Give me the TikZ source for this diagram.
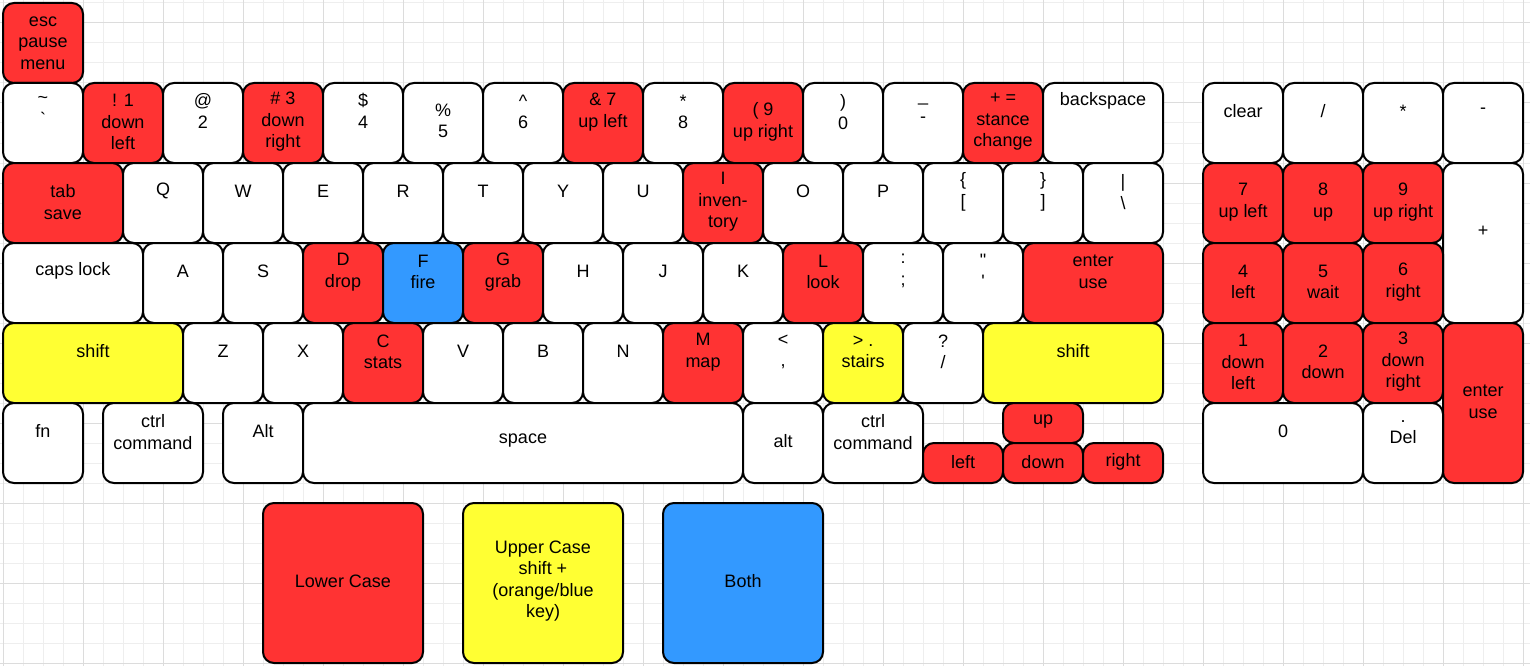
\documentclass[tikz,border=0pt]{standalone}
\usepackage{fontspec}
\newfontfamily\kf{Liberation Sans}
\definecolor{kred}{HTML}{FF3333}
\definecolor{kyel}{HTML}{FFFF33}
\definecolor{kblu}{HTML}{3399FF}
\definecolor{gridminor}{HTML}{EEEEEE}
\definecolor{gridmajor}{HTML}{DCDCDC}
\newcommand\kk[8]{%
  \node[keybox, fill=#6, minimum width={#4pt-#2pt}, minimum height={#5pt-#3pt}] (#1) at ({(#2+#4)/2},{(#3+#5)/2}) {};
  \node[keytext] (#1t) at ({(#2+#4)/2},#7) {#8};}
\begin{document}
\begin{tikzpicture}[x=1pt,y=-1pt,
  keybox/.style={draw=black, line width=2pt, rounded corners=11pt, inner sep=0pt, outer sep=0pt},
  keytext/.style={font=\kf\fontsize{18}{21.5}\selectfont, align=center, inner sep=0pt, text=black, yshift=-1pt}]
\useasboundingbox (0,0) rectangle (1530,666);
\fill[white] (0,0) rectangle (1530,666);
\foreach \i in {0,...,76} {\draw[gridminor, line width=1pt] ({3+20*\i},0) -- ({3+20*\i},666);}
\foreach \i in {0,...,33} {\draw[gridminor, line width=1pt] (0,{3+20*\i}) -- (1530,{3+20*\i});}
\foreach \i in {0,...,19} {\draw[gridmajor, line width=1pt] ({3+80*\i},0) -- ({3+80*\i},666);}
\foreach \i in {0,...,8} {\draw[gridmajor, line width=1pt] (0,{23+80*\i}) -- (1530,{23+80*\i});}
% esc
\kk{esc}{3}{3}{83}{83}{kred}{42}{esc\\pause\\menu}
% row 1
\kk{tilde}{3}{83}{83}{163}{white}{110}{\textasciitilde\\`}
\kk{one}{83}{83}{163}{163}{kred}{121}{! 1\\down\\left}
\kk{two}{163}{83}{243}{163}{white}{110}{@\\2}
\kk{three}{243}{83}{323}{163}{kred}{121}{\# 3\\down\\right}
\kk{four}{323}{83}{403}{163}{white}{110}{\$\\4}
\kk{five}{403}{83}{483}{163}{white}{120}{\%\\5}
\kk{six}{483}{83}{563}{163}{white}{111}{\textasciicircum\\6}
\kk{seven}{563}{83}{643}{163}{kred}{111}{\& 7\\up left}
\kk{eight}{643}{83}{723}{163}{white}{111}{*\\8}
\kk{nine}{723}{83}{803}{163}{kred}{121}{( 9\\up right}
\kk{zero}{803}{83}{883}{163}{white}{111}{)\\0}
\kk{minus}{883}{83}{963}{163}{white}{111}{\_\\{}-}
\kk{equal}{963}{83}{1043}{163}{kred}{121}{+ =\\stance\\change}
\kk{bksp}{1043}{83}{1163}{163}{white}{100}{backspace}
% row 2
\kk{tab}{3}{163}{123}{243}{kred}{201}{tab\\save}
\kk{q}{123}{163}{203}{243}{white}{190}{Q}
\kk{w}{203}{163}{283}{243}{white}{190}{W}
\kk{e}{283}{163}{363}{243}{white}{190}{E}
\kk{r}{363}{163}{443}{243}{white}{190}{R}
\kk{t}{443}{163}{523}{243}{white}{190}{T}
\kk{y}{523}{163}{603}{243}{white}{190}{Y}
\kk{u}{603}{163}{683}{243}{white}{190}{U}
\kk{i}{683}{163}{763}{243}{kred}{201}{I\\inven-\\tory}
\kk{o}{763}{163}{843}{243}{white}{190}{O}
\kk{p}{843}{163}{923}{243}{white}{190}{P}
\kk{lbrace}{923}{163}{1003}{243}{white}{191}{\{\\{}[}
\kk{rbrace}{1003}{163}{1083}{243}{white}{191}{\}\\{}]}
\kk{bslash}{1083}{163}{1163}{243}{white}{191}{|\\\textbackslash}
% row 3
\kk{caps}{3}{243}{143}{323}{white}{270}{caps lock}
\kk{a}{143}{243}{223}{323}{white}{270}{A}
\kk{s}{223}{243}{303}{323}{white}{270}{S}
\kk{d}{303}{243}{383}{323}{kred}{271}{D\\drop}
\kk{f}{383}{243}{463}{323}{kblu}{271}{F\\fire}
\kk{g}{463}{243}{543}{323}{kred}{271}{G\\grab}
\kk{h}{543}{243}{623}{323}{white}{270}{H}
\kk{j}{623}{243}{703}{323}{white}{270}{J}
\kk{k}{703}{243}{783}{323}{white}{270}{K}
\kk{l}{783}{243}{863}{323}{kred}{271}{L\\look}
\kk{colon}{863}{243}{943}{323}{white}{270}{:\\;}
\kk{quote}{943}{243}{1023}{323}{white}{270}{"\\'}
\kk{enter}{1023}{243}{1163}{323}{kred}{271}{enter\\use}
% row 4
\kk{lshift}{3}{323}{183}{403}{kyel}{350}{shift}
\kk{z}{183}{323}{263}{403}{white}{350}{Z}
\kk{x}{263}{323}{343}{403}{white}{350}{X}
\kk{c}{343}{323}{423}{403}{kred}{351}{C\\stats}
\kk{v}{423}{323}{503}{403}{white}{350}{V}
\kk{b}{503}{323}{583}{403}{white}{350}{B}
\kk{n}{583}{323}{663}{403}{white}{350}{N}
\kk{m}{663}{323}{743}{403}{kred}{351}{M\\map}
\kk{comma}{743}{323}{823}{403}{white}{351}{<\\,}
\kk{period}{823}{323}{903}{403}{kyel}{351}{> .\\stairs}
\kk{slash}{903}{323}{983}{403}{white}{351}{?\\/}
\kk{rshift}{983}{323}{1163}{403}{kyel}{350}{shift}
% row 5
\kk{fn}{3}{403}{83}{483}{white}{430}{fn}
\kk{lctrl}{103}{403}{203}{483}{white}{431}{ctrl\\command}
\kk{lalt}{223}{403}{303}{483}{white}{430}{Alt}
\kk{space}{303}{403}{743}{483}{white}{440}{space}
\kk{ralt}{743}{403}{823}{483}{white}{440}{alt}
\kk{rctrl}{823}{403}{923}{483}{white}{431}{ctrl\\command}
\kk{up}{1003}{403}{1083}{443}{kred}{421}{up}
\kk{left}{923}{443}{1003}{483}{kred}{461}{left}
\kk{down}{1003}{443}{1083}{483}{kred}{461}{down}
\kk{right}{1083}{443}{1163}{483}{kred}{461}{right}
% numpad
\kk{clear}{1203}{83}{1283}{163}{white}{110}{clear}
\kk{npdiv}{1283}{83}{1363}{163}{white}{110}{/}
\kk{npmul}{1363}{83}{1443}{163}{white}{110}{*}
\kk{npsub}{1443}{83}{1523}{163}{white}{110}{-}
\kk{npseven}{1203}{163}{1283}{243}{kred}{201}{7\\up left}
\kk{npeight}{1283}{163}{1363}{243}{kred}{201}{8\\up}
\kk{npnine}{1363}{163}{1443}{243}{kred}{201}{9\\up right}
\kk{npadd}{1443}{163}{1523}{323}{white}{230}{+}
\kk{npfour}{1203}{243}{1283}{323}{kred}{281}{4\\left}
\kk{npfive}{1283}{243}{1363}{323}{kred}{281}{5\\wait}
\kk{npsix}{1363}{243}{1443}{323}{kred}{281}{6\\right}
\kk{npone}{1203}{323}{1283}{403}{kred}{361}{1\\down\\left}
\kk{nptwo}{1283}{323}{1363}{403}{kred}{361}{2\\down}
\kk{npthree}{1363}{323}{1443}{403}{kred}{361}{3\\down\\right}
\kk{npenter}{1443}{323}{1523}{483}{kred}{401}{enter\\use}
\kk{npzero}{1203}{403}{1363}{483}{white}{430}{0}
\kk{npdel}{1363}{403}{1443}{483}{white}{431}{.\\Del}
% legend
\kk{lower}{263}{503}{423}{663}{kred}{580}{Lower Case}
\kk{upper}{463}{503}{623}{663}{kyel}{580}{Upper Case\\shift +\\(orange/blue\\key)}
\kk{both}{663}{503}{823}{663}{kblu}{580}{Both}
\end{tikzpicture}
\end{document}
